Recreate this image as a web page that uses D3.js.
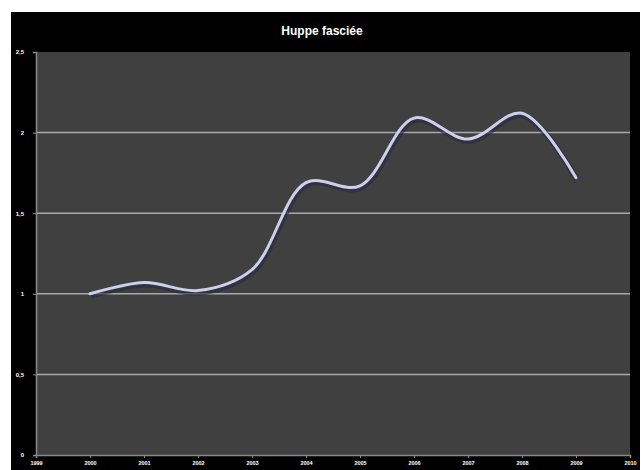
<!DOCTYPE html>
<html><head><meta charset="utf-8">
<script src="https://cdn.jsdelivr.net/npm/d3@7"></script>
<style>body{margin:0;background:#fff}svg{display:block}</style>
</head><body><svg id="c" width="641" height="470"></svg>
<script>
const title = "Huppe fasciée";
const xTickYears = [1999,2000,2001,2002,2003,2004,2005,2006,2007,2008,2009,2010];
const years = [2000,2001,2002,2003,2004,2005,2006,2007,2008,2009];
const values = [1.0,1.07,1.02,1.15,1.69,1.67,2.09,1.96,2.12,1.72];
const yTicks = [0,0.5,1,1.5,2,2.5];
const yTickLabels = ["0","0,5","1","1,5","2","2,5"];

const svg = d3.select("#c");
svg.append("rect").attr("x",11).attr("y",12).attr("width",629).attr("height",458).attr("fill","#000");
const m = {l:36, r:630, t:52, b:455};
const x = d3.scaleLinear().domain([1999,2010]).range([m.l,m.r]);
const y = d3.scaleLinear().domain([0,2.5]).range([m.b,m.t]);
svg.append("rect").attr("x",m.l).attr("y",m.t).attr("width",m.r-m.l).attr("height",m.b-m.t).attr("fill","#404040");
// gridlines
svg.append("g").selectAll("line").data(yTicks.filter(d=>d>0 && d<2.5)).join("line")
  .attr("x1",m.l).attr("x2",m.r).attr("y1",d=>y(d)).attr("y2",d=>y(d))
  .attr("stroke","#a8a8a8").attr("stroke-width",1.5);
// y axis
const ya = svg.append("g").attr("transform",`translate(${m.l},0)`)
  .call(d3.axisLeft(y).tickValues(yTicks).tickFormat((d,i)=>yTickLabels[i]).tickSize(3));
ya.select(".domain").attr("stroke","#8a8a8a").attr("stroke-width",1.5);
ya.selectAll(".tick line").attr("stroke","#8a8a8a");
ya.selectAll("text").attr("fill","#fff").attr("font-size",6).attr("font-family","Liberation Sans, Arial").attr("font-weight","bold").attr("dx",-6);
// x axis
const xa = svg.append("g").attr("transform",`translate(0,${m.b})`)
  .call(d3.axisBottom(x).tickValues(xTickYears).tickFormat(d3.format("d")).tickSize(3));
xa.select(".domain").attr("stroke","#8a8a8a").attr("stroke-width",1.5);
xa.selectAll(".tick line").attr("stroke","#8a8a8a");
xa.selectAll("text").attr("fill","#fff").attr("font-size",5.5).attr("font-family","Liberation Sans, Arial").attr("font-weight","bold").attr("dy",4);
// line
const line = d3.line().x((d,i)=>x(years[i])).y(d=>y(d)).curve(d3.curveCatmullRom.alpha(0.5));
svg.append("path").datum(values).attr("d",line).attr("fill","none")
  .attr("stroke","#262a40").attr("stroke-opacity",0.6).attr("stroke-width",6).attr("transform","translate(1,2)");
svg.append("path").datum(values).attr("d",line).attr("fill","none")
  .attr("stroke","#cdd0ec").attr("stroke-width",3).attr("stroke-linecap","round");
// title
svg.append("text").attr("x",322).attr("y",35).attr("text-anchor","middle")
  .attr("fill","#fff").attr("font-family","Liberation Sans, Arial").attr("font-weight","bold").attr("font-size",12).text(title);
</script></body></html>
